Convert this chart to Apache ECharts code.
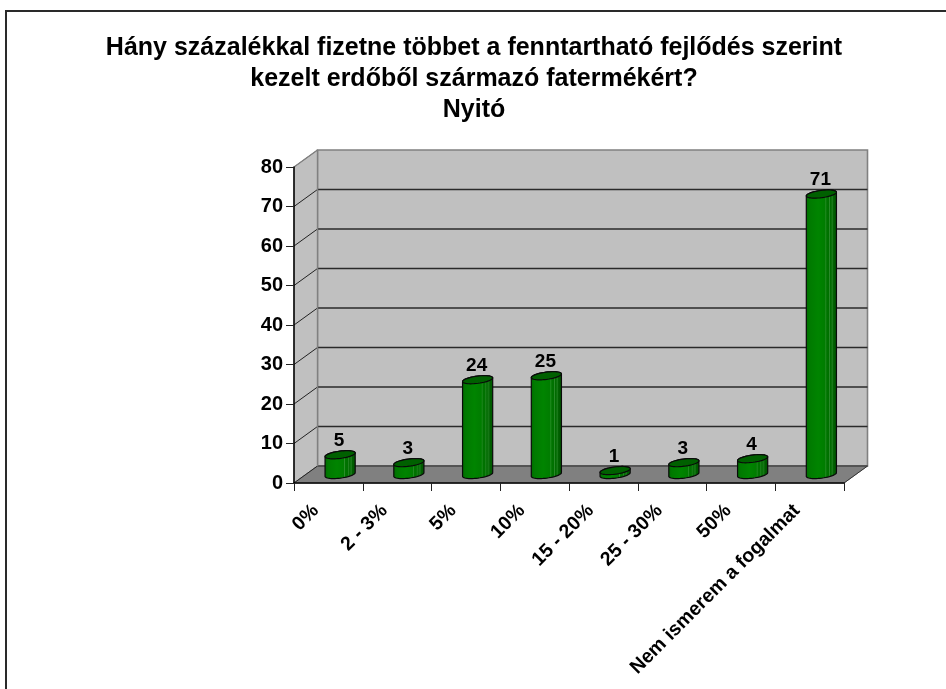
<!DOCTYPE html>
<html><head><meta charset="utf-8">
<style>html,body{margin:0;padding:0;background:#fff}#c{width:946px;height:689px}</style>
<script src="https://cdn.jsdelivr.net/npm/echarts@6/dist/echarts.min.js"></script>
</head><body><div id="c"></div>
<script>
const titleText = "Hány százalékkal fizetne többet a fenntartható fejlődés szerint\nkezelt erdőből származó fatermékért?\nNyitó";
const categories = ["0%","2 - 3%","5%","10%","15 - 20%","25 - 30%","50%","Nem ismerem a fogalmat"];
const values = [5,3,24,25,1,3,4,71];
const yTicks = [0,10,20,30,40,50,60,70,80];
const FONT = '"Liberation Sans", Arial, sans-serif';
const DX = 23.5, DY = -17;          // depth of the 3D box
const BX = 11.75, BY = -8.5;        // bar base offset from the front plane
const RX = 15.2, RY = 3.6, TILT = -0.13;

function ellipsePoints(cx, cy, from, to, n){
  const pts = [];
  for(let i=0;i<=n;i++){
    const a = from + (to-from)*i/n;
    const x = RX*Math.cos(a), y = RY*Math.sin(a);
    pts.push([cx + x*Math.cos(TILT) - y*Math.sin(TILT), cy + x*Math.sin(TILT) + y*Math.cos(TILT)]);
  }
  return pts;
}
function renderWalls(params, api){
  const n = categories.length;
  const p = (i,v)=>api.coord([i,v]);
  const bw = api.size([1,0])[0];
  const l = p(0,0)[0]-bw/2, r = p(n-1,0)[0]+bw/2;
  const y0 = p(0,0)[1], yT = p(0,80)[1];
  const kids = [];
  const poly = (points, fill, stroke, lw)=>({type:'polygon',shape:{points},style:{fill,stroke,lineWidth:lw||1}});
  const line = (a,b,stroke,lw)=>({type:'line',shape:{x1:a[0],y1:a[1],x2:b[0],y2:b[1]},style:{stroke,lineWidth:lw||1}});
  kids.push(poly([[l+DX,y0+DY],[r+DX,y0+DY],[r+DX,yT+DY],[l+DX,yT+DY]],'#c0c0c0','#808080',1.6));
  kids.push(poly([[l,y0],[l+DX,y0+DY],[l+DX,yT+DY],[l,yT]],'#c0c0c0','#808080',1));
  kids.push(poly([[l,y0],[r,y0],[r+DX,y0+DY],[l+DX,y0+DY]],'#808080','#808080',1));
  yTicks.forEach(t=>{
    const y = p(0,t)[1];
    if(t>0 && t<80) kids.push(line([l+DX,y+DY],[r+DX,y+DY],'#2a2a2a',1.3));
    if(t<80) kids.push(line([l,y],[l+DX,y+DY],'#222',1));
  });
  kids.push(line([l+DX,y0+DY],[r+DX,y0+DY],'#444',1.3));
  kids.push(line([l+DX,y0+DY],[l+DX,yT+DY],'#808080',1.4));
  kids.push(line([r,y0],[r+DX,y0+DY],'#333',1));
  kids.push(line([l,yT],[l+DX,yT+DY],'#808080',1.2));
  return {type:'group',children:kids};
}
const bodyFill = {type:'linear',x:0,y:0,x2:1,y2:0,colorStops:[
  {offset:0,color:'#006a00'},{offset:0.12,color:'#007a00'},{offset:0.4,color:'#008400'},
  {offset:0.62,color:'#007c00'},{offset:0.64,color:'#2b8f2b'},{offset:0.67,color:'#007400'},
  {offset:0.74,color:'#007000'},{offset:0.76,color:'#2b8a2b'},{offset:0.79,color:'#006a00'},
  {offset:0.86,color:'#1a7a1a'},{offset:0.89,color:'#005f00'},{offset:1,color:'#005500'}]};
function renderBar(params, api){
  const i = api.value(0), v = api.value(1);
  const b = api.coord([i,0]), t = api.coord([i,v]);
  const cx = b[0]+BX, by = b[1]+BY, ty = t[1]+BY;
  const bottom = ellipsePoints(cx,by,Math.PI,0,24);
  const upper = ellipsePoints(cx,ty,0,-Math.PI,24);
  const lidPts = ellipsePoints(cx,ty,0,2*Math.PI,48);
  return {type:'group',children:[
    {type:'polygon',shape:{points:bottom.concat(upper)},style:{fill:bodyFill,stroke:'#0a0a0a',lineWidth:1.2}},
    {type:'polygon',shape:{points:lidPts},style:{fill:'#006000',stroke:'#0a0a0a',lineWidth:1.2}},
    {type:'text',style:{text:String(v),x:cx-1,y:ty-14,align:'center',verticalAlign:'middle',
      font:'bold 19px '+FONT,fill:'#000'}}
  ]};
}
const chart = echarts.init(document.getElementById('c'),null,{renderer:'canvas'});
chart.setOption({
  animation:false,backgroundColor:'#fff',
  graphic:[
    {type:'line',shape:{x1:5,y1:11,x2:946,y2:11},style:{stroke:'#2a2a2a',lineWidth:2}},
    {type:'line',shape:{x1:6,y1:10,x2:6,y2:689},style:{stroke:'#2a2a2a',lineWidth:2}}
  ],
  title:{text:titleText,left:469,top:28,textAlign:'center',
    textStyle:{fontFamily:FONT,fontWeight:'bold',fontSize:25,lineHeight:31,color:'#000'}},
  grid:{left:294,top:167,width:550,height:316},
  xAxis:{type:'category',data:categories,boundaryGap:true,z:5,
    axisLine:{lineStyle:{color:'#000',width:1.5}},
    axisTick:{show:true,length:8,alignWithLabel:false,lineStyle:{color:'#222',width:1}},
    axisLabel:{interval:0,rotate:45,margin:12,padding:[0,18,0,0],fontFamily:FONT,fontWeight:'bold',fontSize:19.5,color:'#000'}},
  yAxis:{type:'value',min:0,max:80,interval:10,z:5,
    axisLine:{show:true,lineStyle:{color:'#000',width:1.5}},
    axisTick:{show:true,length:8,lineStyle:{color:'#222',width:1}},
    splitLine:{show:false},
    axisLabel:{margin:11,fontFamily:FONT,fontWeight:'bold',fontSize:20,color:'#000'}},
  series:[
    {type:'custom',renderItem:renderWalls,data:[[0,0]],z:1,silent:true,clip:false,encode:{x:0,y:1}},
    {type:'custom',renderItem:renderBar,data:values.map((v,i)=>[i,v]),z:3,silent:true,clip:false,encode:{x:0,y:1}}
  ]
});
</script></body></html>
